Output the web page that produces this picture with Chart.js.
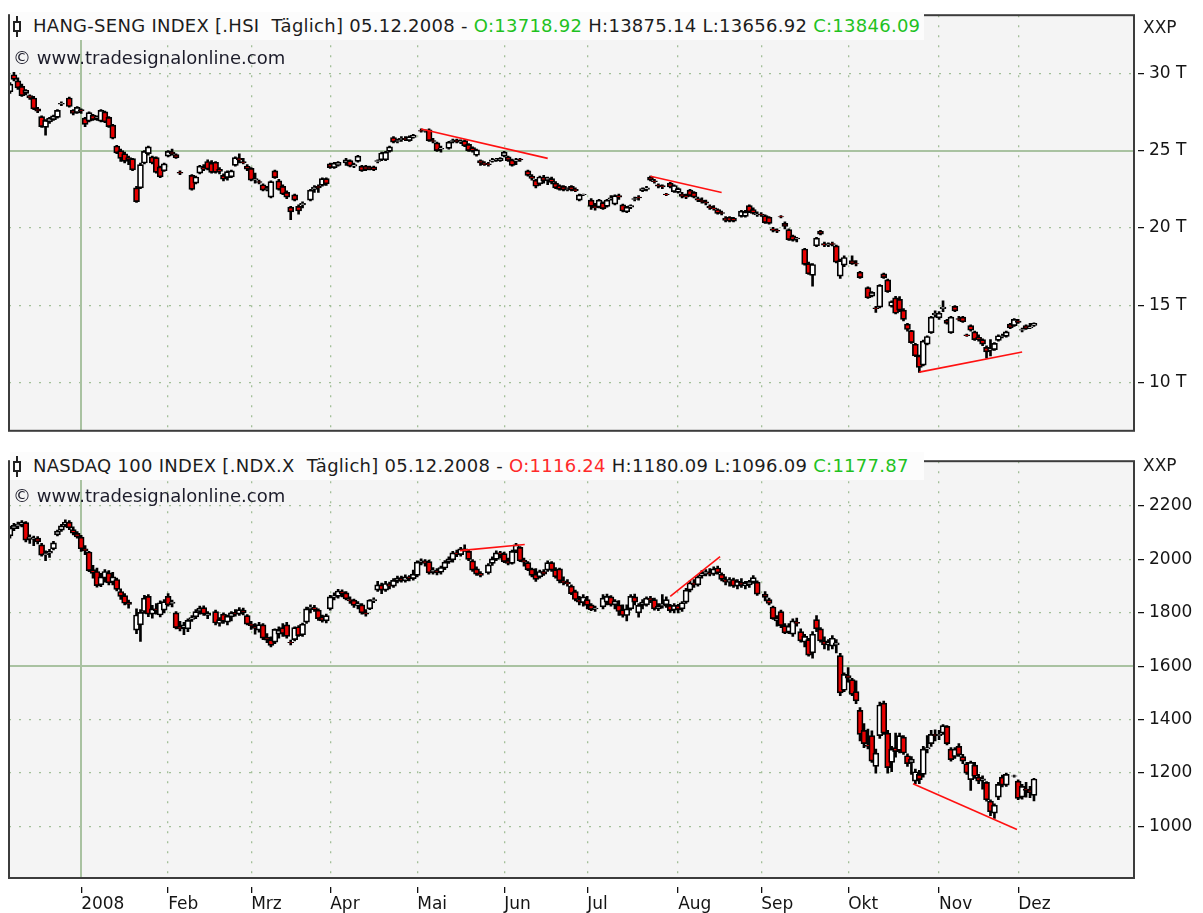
<!DOCTYPE html>
<html lang="de">
<head>
  <meta charset="UTF-8">
  <title>HANG-SENG / NASDAQ 100 - Täglich 2008</title>
  <script src="https://cdn.jsdelivr.net/npm/chart.js"></script>
  <style>
    body {
      margin: 0;
      background: #ffffff;
      font-family: "DejaVu Sans", sans-serif;
      overflow: hidden;
    }
    .wrap {
      position: relative;
      width: 1203px;
      height: 913px;
    }
    canvas {
      position: absolute;
      left: 0;
    }
    .band {
      position: absolute;
      left: 10px;
      width: 914px;
      height: 28px;
      line-height: 28px;
      background: #fcfcfc;
      font-size: 18px;
      letter-spacing: 0.27px;
      color: #1c1c1c;
      white-space: pre;
      padding-left: 23px;
      box-sizing: border-box;
    }
    .icon-line {
      position: absolute;
      left: 6px;
      top: 4px;
      width: 2px;
      height: 21px;
      background: #222;
    }
    .icon-box {
      position: absolute;
      left: 3px;
      top: 9px;
      width: 4px;
      height: 7px;
      border: 2px solid #222;
      background: #fff;
    }
    .copy {
      position: absolute;
      left: 13px;
      height: 22px;
      line-height: 22px;
      font-size: 18px;
      color: #1c1c2a;
    }
    .unit {
      position: absolute;
      left: 1143px;
      height: 20px;
      line-height: 20px;
      font-size: 17px;
      color: #1c1c1c;
    }
    .up { color: #1fc21f; }
    .down { color: #ff2a2a; }
  </style>
</head>
<body>
  <div class="wrap">
    <canvas id="hsiChart" width="1203" height="446" style="top:0px"></canvas>
    <canvas id="ndxChart" width="1203" height="467" style="top:446px"></canvas>

    <div class="band" id="hsiTitle" style="top:12px"></div>
    <div class="copy" style="top:47px">© www.tradesignalonline.com</div>
    <div class="unit" style="top:17px">XXP</div>

    <div class="band" id="ndxTitle" style="top:452px"></div>
    <div class="copy" style="top:485px">© www.tradesignalonline.com</div>
    <div class="unit" style="top:455px">XXP</div>
  </div>

  <script>
    // Trading days 05.12.2007 - 05.12.2008 (union of HK and US sessions), null = market closed
    // [open, high, low, close]
    const hsiBars = [
      [28800,29400,28700,29300],[29900,30050,29500,29600],[29500,29700,28950,29050],[29150,29300,28500,28550],
      [28700,28950,28600,28900],[28550,28600,28300,28400],[28400,28500,27650,27700],[27700,27800,27450,27550],
      [27200,27250,26500,26550],[26500,27000,26000,26950],[26850,27150,26750,27100],[27000,27300,26950,27250],
      [27150,27650,27100,27600],[28000,28150,27900,28050],null,[28400,28450,27800,27850],
      [27600,27650,27300,27400],[27450,27850,27400,27800],[27650,27700,27400,27560],[27100,27150,26550,26700],
      [26900,27500,26850,27450],[27300,27350,26950,27000],[27100,27250,26950,27150],[26900,27650,26850,27600],
      [27500,27550,26800,26850],[27150,27200,26500,26550],[26650,26700,25750,25800],[25300,25350,24800,24850],
      [25000,25100,24300,24500],[24800,24900,24200,24300],[24550,24650,24100,24400],[24480,24500,23700,23750],
      [22600,22700,21650,21700],[22600,24200,22550,24100],[24200,25000,24150,24950],[24800,25300,24700,25250],
      [24600,24650,24150,24200],[24550,24600,23550,23600],[23950,24000,23250,23300],[23700,24200,23650,24150],
      [24650,25000,24600,24950],[24900,25100,24700,24800],[24750,24800,24500,24550],[23600,23700,23450,23550],
      null,null,[23400,23450,22450,22500],[22900,23350,22850,23300],
      [23550,24050,23500,24000],[23900,24100,23700,23800],[24300,24400,23750,23800],[24200,24350,23550,23600],
      [24250,24300,23550,23600],[23800,23900,23500,23650],[23400,23500,23050,23150],[23250,23700,23100,23650],
      [23300,23750,23250,23700],[24050,24600,24000,24550],[24500,24800,24200,24400],[24300,24500,24150,24200],
      [24000,24100,23700,23800],[23850,23900,23050,23100],[23100,23550,22900,23200],[23000,23100,22850,22950],
      [22800,22850,22400,22450],[22500,22700,22400,22550],[22000,23050,21950,23000],[23700,23750,23200,23250],
      [23050,23150,22450,22500],[22700,22800,22150,22200],[22300,22400,21900,22000],[21350,21400,20550,21050],
      [22150,22200,21750,21800],[21400,21500,20900,21100],[21500,21700,21300,21600],null,
      [21800,22500,21750,22450],[22500,22750,22300,22650],[22700,22800,22300,22600],[22750,23250,22700,23200],
      [23200,23250,22750,22850],[24150,24200,23850,23900],[23900,24250,23850,24200],[24050,24300,24000,24250],
      null,[24200,24500,24050,24400],[24350,24400,23950,24000],[24000,24200,23900,24100],
      [24300,24700,24250,24650],[24000,24050,23650,23700],[24000,24050,23700,23750],[23900,24000,23750,23850],
      [23950,24000,23700,23750],[24300,24400,24200,24350],[24400,24900,24350,24850],[24400,24950,24350,24900],
      [24950,25300,24900,25250],[25850,25900,25500,25550],[25600,25750,25500,25650],[25700,25900,25600,25800],
      [25800,25900,25650,25700],[25650,25950,25600,25900],[25850,26050,25800,26000],null,
      [26300,26400,26200,26250],[26250,26350,26200,26300],[26350,26400,25600,25650],[25650,25800,25500,25600],
      [25500,25550,24950,25000],[25100,25300,24900,25150],null,[25150,25600,25100,25550],
      [25600,25750,25500,25650],[25700,25750,25500,25550],[25550,25700,25450,25600],[25650,25700,25250,25300],
      [25400,25450,24950,25000],[25200,25250,24900,24950],[24700,25100,24650,25050],[24350,24400,24050,24200],
      [24200,24300,24050,24100],[24150,24250,24000,24100],[24300,24500,24250,24400],[24400,24500,24300,24450],
      [24350,24550,24300,24500],[24650,24950,24600,24900],[24600,24650,24300,24350],[24400,24450,24000,24050],
      [24300,24500,24100,24400],[24450,24500,24300,24400],null,[23700,23750,23350,23400],
      [23350,23450,23100,23200],[23100,23150,22600,22700],[22850,23350,22750,23300],[23300,23400,22900,23050],
      [23100,23300,22800,23250],[23200,23300,22850,22950],[22900,23000,22550,22600],[22750,22800,22450,22500],
      [22700,22750,22400,22450],[22500,22600,22400,22550],[22700,22750,22400,22450],[22500,22600,22350,22400],
      [21800,22200,21750,22150],[22150,22200,22100,22180],null,[21800,21900,21200,21400],
      [21400,21600,21150,21300],[21350,21850,21300,21800],[21650,21700,21200,21250],[21400,21850,21350,21800],
      [21900,22100,21800,21950],[21550,22150,21500,22100],[22100,22200,21850,22000],[21500,21550,21050,21100],
      [21050,21400,21000,21350],[21350,21500,21250,21450],[21850,22000,21750,21900],[22000,22100,21800,21950],
      [22400,22600,22350,22550],[22500,22700,22400,22600],[23300,23350,23050,23100],[23050,23150,22900,23000],
      [22800,22850,22600,22700],[22750,22800,22550,22650],[22200,22250,22100,22150],[22900,22950,22600,22650],
      [22350,22800,22300,22750],[22300,22600,22250,22550],[22200,22300,21950,22050],[22100,22200,21900,22000],
      [22450,22500,22050,22100],[22300,22350,21950,22000],[21900,22000,21700,21800],[21800,21950,21600,21700],
      [21700,21800,21500,21600],[21400,21500,21200,21300],[21300,21450,21150,21250],[21200,21250,20900,20950],
      [21000,21100,20850,20950],[20650,20750,20400,20500],[20700,20750,20400,20450],[20650,20700,20400,20450],
      null,[20750,21150,20700,21100],[20750,21150,20700,21050],[21450,21500,21000,21050],
      [21200,21300,20900,20950],[20850,21050,20750,20900],[20900,21000,20750,20850],[20800,20850,20300,20350],
      [20700,20750,20250,20300],[19950,20050,19750,19850],[19850,19950,19700,19800],[20750,20800,20650,20720],
      [20300,20400,19950,20100],[19900,19950,19200,19250],[19500,19550,19150,19200],[19300,19400,19100,19350],
      null,[18650,18700,17600,17650],[17700,17800,17000,17050],[16950,17700,16250,17650],
      [18850,19400,18800,19350],[19800,19850,19550,19600],[19000,19100,18800,18900],[18900,19050,18800,18950],
      [19000,19100,18850,18950],[18850,18900,17750,17800],[16900,18000,16750,17900],[17600,18200,17500,18100],
      null,[17900,18200,17650,17700],[17700,17900,17550,17680],[17150,17200,16750,16800],
      null,[16150,16200,15450,15500],[15600,15900,15550,15850],[14850,14950,14550,14800],
      [14900,16350,14850,16300],[17050,17100,16750,16800],[16650,16700,15850,15900],[14950,15300,14900,15250],
      [15500,15600,14450,14500],[15400,15580,14600,14700],[14700,14800,14000,14100],[13800,13850,13350,13450],
      [13380,13400,12550,12600],[12500,12550,11700,11750],[11750,11800,10680,11000],[11150,12760,11100,12700],
      [12500,13050,12450,13000],[13250,14300,13200,14250],[14400,14650,14250,14500],[14200,14600,14100,14500],
      [14800,15300,14600,14900],[14050,14100,13800,13850],[13250,14300,13200,14250],[14950,15000,14600,14650],
      [14150,14300,14000,14100],[14250,14300,13900,13950],[13100,13150,13000,13050],[13700,13750,13350,13400],
      [13300,13350,12750,12800],[12950,13100,12700,12800],[12800,12850,12400,12500],[12300,12400,11600,12000],
      [12100,12800,11750,12200],[12150,12600,12100,12550],[12750,13100,12700,13050],[13000,13150,12900,13050],
      [13000,13350,12950,13300],[13800,13850,13500,13550],[13700,14150,13650,14100],[14000,14100,13850,13900],
      [13400,13550,13300,13450],[13700,13750,13450,13500],[13550,13850,13500,13600],[13718.92,13875.14,13656.92,13846.09]
    ];

    const ndxBars = [
      [2088,2124,2080,2118],[2115,2135,2108,2128],[2125,2140,2115,2132],[2130,2146,2122,2140],
      [2138,2142,2066,2072],[2078,2092,2060,2084],[2075,2088,2052,2080],[2080,2086,2058,2066],
      [2055,2060,2012,2016],[2018,2032,1995,2022],[2024,2038,2008,2030],[2040,2068,2036,2062],
      [2092,2110,2088,2106],[2110,2132,2105,2126],[2128,2148,2122,2140],[2140,2146,2112,2118],
      [2112,2122,2092,2098],[2098,2104,2080,2084],[2084,2090,2030,2040],[2040,2052,2018,2032],
      [2028,2030,1954,1958],[1962,1978,1930,1948],[1955,1968,1896,1902],[1905,1948,1898,1935],
      [1930,1962,1915,1955],[1950,1958,1905,1912],[1915,1952,1905,1935],[1925,1930,1882,1888],
      [1880,1890,1850,1862],[1865,1872,1830,1836],[1840,1848,1818,1832],null,
      [1735,1815,1722,1792],[1755,1812,1693,1802],[1805,1866,1798,1855],[1862,1868,1786,1795],
      [1795,1828,1780,1815],[1815,1835,1795,1808],[1792,1845,1785,1838],[1810,1850,1800,1842],
      [1862,1872,1825,1830],[1835,1848,1822,1840],[1800,1805,1740,1745],[1748,1768,1732,1740],
      [1742,1765,1718,1755],[1740,1778,1730,1772],[1775,1790,1768,1782],[1785,1812,1778,1805],
      [1805,1825,1795,1818],[1820,1826,1790,1795],[1790,1805,1778,1798],null,
      [1805,1810,1755,1762],[1760,1782,1750,1775],[1795,1800,1760,1768],[1765,1792,1755,1788],
      [1785,1805,1770,1800],[1802,1812,1788,1795],[1795,1820,1790,1812],[1810,1818,1792,1800],
      [1790,1794,1755,1758],[1758,1768,1738,1752],[1750,1760,1720,1742],[1735,1765,1728,1756],
      [1755,1760,1700,1705],[1708,1722,1688,1698],[1700,1710,1672,1678],[1690,1740,1685,1738],
      [1720,1748,1705,1735],[1745,1760,1712,1722],[1755,1765,1705,1712],[1690,1698,1680,1688],
      [1700,1748,1695,1745],[1748,1752,1712,1715],[1718,1762,1712,1758],[1765,1822,1760,1815],
      [1815,1830,1800,1822],[1820,1828,1805,1812],[1810,1815,1772,1778],[1785,1792,1765,1770],
      [1770,1795,1762,1790],[1815,1866,1810,1860],[1858,1875,1848,1865],[1862,1888,1855,1882],
      [1880,1886,1860,1872],[1875,1880,1848,1852],[1850,1860,1835,1845],[1848,1852,1820,1828],
      [1828,1842,1815,1835],[1830,1835,1795,1800],[1800,1812,1788,1795],[1815,1850,1812,1848],
      [1845,1856,1838,1850],[1885,1918,1880,1905],[1905,1912,1872,1885],[1885,1918,1880,1910],
      [1908,1915,1890,1900],[1900,1928,1895,1922],[1918,1938,1912,1930],[1932,1938,1915,1920],
      [1920,1942,1915,1935],[1935,1940,1920,1928],[1928,1960,1922,1945],[1940,1995,1935,1990],
      [1990,2002,1980,1995],[1995,2000,1975,1985],[1992,1998,1945,1950],[1955,1970,1945,1960],
      [1958,1966,1942,1950],[1952,1975,1945,1970],[1968,1996,1962,1990],[1990,2010,1985,2002],
      [1998,2030,1990,2025],[2025,2035,2010,2020],[2018,2045,2012,2040],[2040,2055,2030,2035],
      [2030,2035,1995,2000],[1995,2000,1955,1960],[1965,1972,1940,1945],[1948,1955,1935,1940],
      null,[1950,1985,1945,1980],[1985,2010,1978,2002],[2000,2032,1995,2025],
      [2025,2030,2005,2020],[2022,2028,1988,1992],[1995,2005,1980,1985],[1985,2035,1982,2030],
      [2032,2060,2025,2055],[2045,2048,1992,1995],[1998,2005,1975,1990],[1988,1992,1958,1962],
      [1965,1968,1935,1940],[1945,1966,1918,1925],[1935,1960,1930,1955],[1955,1962,1940,1945],
      [1960,1995,1955,1988],[1988,1992,1955,1960],[1962,1970,1930,1935],[1965,1968,1912,1920],
      [1920,1935,1905,1912],[1915,1925,1900,1908],[1900,1905,1868,1872],[1880,1885,1845,1850],
      [1850,1862,1830,1840],[1838,1868,1825,1860],[1850,1862,1815,1828],[1830,1835,1808,1812],
      [1815,1825,1805,1818],null,[1822,1868,1815,1855],[1840,1870,1830,1862],
      [1860,1865,1825,1830],[1830,1850,1815,1845],[1830,1846,1790,1805],[1812,1830,1784,1790],
      [1790,1830,1770,1815],[1815,1868,1810,1862],[1860,1870,1830,1840],[1800,1835,1784,1828],
      [1828,1850,1815,1840],[1830,1860,1825,1855],[1855,1862,1838,1848],[1850,1855,1810,1815],
      [1815,1835,1808,1825],[1825,1868,1818,1835],[1830,1860,1820,1850],[1828,1832,1802,1808],
      [1810,1835,1800,1828],[1828,1832,1800,1812],[1815,1842,1805,1838],[1840,1892,1835,1885],
      [1885,1920,1878,1912],[1912,1925,1895,1905],[1905,1940,1900,1935],[1938,1958,1930,1948],
      [1945,1962,1938,1955],[1950,1966,1938,1945],[1945,1972,1940,1965],[1968,1975,1945,1950],
      [1945,1950,1920,1925],[1925,1935,1905,1915],[1915,1932,1900,1925],[1925,1930,1895,1900],
      [1900,1925,1890,1918],[1915,1928,1895,1902],[1902,1918,1890,1910],[1905,1922,1895,1918],
      [1915,1940,1910,1932],[1915,1920,1865,1870],null,[1870,1880,1845,1858],
      [1850,1855,1830,1835],[1822,1825,1775,1778],[1770,1790,1750,1780],[1805,1810,1745,1752],
      [1752,1760,1722,1725],[1728,1760,1722,1750],[1720,1778,1712,1770],[1765,1780,1750,1760],
      [1730,1740,1690,1695],[1690,1720,1672,1712],[1700,1705,1638,1642],[1650,1730,1630,1720],
      [1775,1790,1730,1740],[1740,1745,1690,1695],[1695,1710,1665,1680],[1680,1700,1660,1690],
      [1675,1715,1665,1705],[1680,1700,1650,1688],[1640,1648,1490,1500],[1510,1575,1505,1570],
      [1565,1595,1540,1555],[1550,1555,1490,1495],[1505,1545,1460,1470],[1435,1445,1320,1345],
      [1360,1385,1295,1310],[1305,1365,1290,1300],[1340,1358,1240,1245],[1225,1290,1200,1275],
      [1340,1466,1330,1455],[1462,1470,1345,1350],[1350,1360,1200,1220],[1240,1300,1205,1290],
      [1295,1350,1260,1280],[1285,1350,1275,1340],[1335,1340,1270,1275],[1265,1272,1225,1235],
      [1238,1262,1195,1252],[1170,1215,1160,1205],[1195,1210,1160,1175],[1195,1300,1185,1290],
      [1290,1340,1275,1295],[1310,1360,1300,1345],[1345,1362,1320,1340],[1340,1360,1325,1345],
      [1350,1382,1345,1378],[1375,1378,1305,1310],[1290,1295,1245,1250],[1262,1295,1255,1290],
      [1300,1310,1262,1268],[1262,1270,1235,1245],[1235,1240,1195,1200],[1175,1245,1135,1240],
      [1230,1240,1180,1188],[1185,1195,1160,1170],[1172,1190,1140,1178],[1165,1168,1095,1100],
      [1095,1100,1040,1055],[1050,1085,1030,1080],[1110,1165,1100,1158],[1185,1192,1148,1155],
      [1155,1200,1150,1195],null,[1188,1192,1185,1190],[1170,1175,1100,1105],
      [1110,1158,1102,1150],[1140,1165,1110,1135],[1138,1150,1108,1127],[1116.24,1180.09,1096.09,1177.87]
    ];

    const monthLabels = ['2008', 'Feb', 'Mrz', 'Apr', 'Mai', 'Jun', 'Jul', 'Aug', 'Sep', 'Okt', 'Nov', 'Dez'];
    const monthStarts = [18, 40, 61, 81, 103, 125, 146, 169, 190, 212, 235, 255];

    const hsiTicks = [10000, 15000, 20000, 25000, 30000];
    const ndxTicks = [1000, 1200, 1400, 1600, 1800, 2000, 2200];

    // trend lines: [startIndex, startValue, endIndex, endValue]
    const hsiTrends = [[104, 26400, 136, 24500], [162, 23350, 180, 22300], [230, 10700, 256, 12000]];
    const ndxTrends = [[113.8, 2033, 130.2, 2056], [167, 1862, 179.6, 2011], [228.4, 1160, 254.7, 989]];

    Chart.defaults.font.family = '"DejaVu Sans", sans-serif';

    // header lines built from the last bar, coloured against the previous close
    function fillTitle(el, name, bars) {
      const last = bars[bars.length - 1];
      const prev = bars[bars.length - 2];
      const f = v => v.toFixed(2);
      const cls = v => v < prev[3] ? 'down' : 'up';
      el.innerHTML = '<span class="icon-line"></span><span class="icon-box"></span>' +
        name + ' 05.12.2008 - ' +
        '<span class="' + cls(last[0]) + '">O:' + f(last[0]) + '</span>' +
        ' H:' + f(last[1]) + ' L:' + f(last[2]) + ' ' +
        '<span class="' + cls(last[3]) + '">C:' + f(last[3]) + '</span>';
    }
    fillTitle(document.getElementById('hsiTitle'), 'HANG-SENG INDEX [.HSI  Täglich]', hsiBars);
    fillTitle(document.getElementById('ndxTitle'), 'NASDAQ 100 INDEX [.NDX.X  Täglich]', ndxBars);

    const panelPlugin = {
      id: 'panel',
      beforeDraw(chart) {
        const {ctx, chartArea: a} = chart;
        ctx.save();
        ctx.fillStyle = '#f4f4f4';
        ctx.fillRect(a.left, a.top, a.width, a.height);
        ctx.restore();
      },
      beforeDatasetsDraw(chart, args, opts) {
        const {ctx, chartArea: a, scales} = chart;
        const y = Math.round(scales.y.getPixelForValue(opts.level));
        const x = Math.round(scales.x.getPixelForValue(monthStarts[0]));
        ctx.save();
        ctx.strokeStyle = '#a9c2a1';
        ctx.lineWidth = 2;
        ctx.beginPath();
        ctx.moveTo(a.left, y);
        ctx.lineTo(a.right, y);
        ctx.moveTo(x, a.top);
        ctx.lineTo(x, a.bottom);
        ctx.stroke();
        ctx.restore();
      },
      afterDraw(chart) {
        const {ctx, chartArea: a} = chart;
        ctx.save();
        ctx.strokeStyle = '#3c3c3c';
        ctx.lineWidth = 2;
        ctx.strokeRect(a.left, a.top, a.width, a.height);
        ctx.restore();
      }
    };

    function candleDatasets(bars) {
      const bodies = [], wicks = [], fills = [];
      bars.forEach((b, i) => {
        if (!b) return;
        wicks.push({x: i, y: [b[2], b[1]]});
        bodies.push({x: i, y: [b[0], b[3]]});
        fills.push(b[3] < b[0] ? '#e80000' : '#ffffff');
      });
      return [
        {
          type: 'bar', data: bodies, backgroundColor: fills, borderColor: '#000000',
          borderWidth: 1.7, borderSkipped: false, barThickness: 6, grouped: false, order: 1
        },
        {
          type: 'bar', data: wicks, backgroundColor: '#000000', borderWidth: 0,
          barThickness: 2, grouped: false, order: 2
        }
      ];
    }

    function trendDatasets(trends) {
      return trends.map(t => ({
        type: 'line',
        data: [{x: t[0], y: t[1]}, {x: t[2], y: t[3]}],
        borderColor: '#ff1010',
        borderWidth: 1.6,
        pointRadius: 0,
        order: 0
      }));
    }

    function makeChart(id, bars, trends, cfg) {
      return new Chart(document.getElementById(id), {
        type: 'bar',
        data: {datasets: [...candleDatasets(bars), ...trendDatasets(trends)]},
        options: {
          responsive: false,
          animation: false,
          events: [],
          layout: {padding: {left: 9, top: cfg.padTop, right: 0, bottom: 0}},
          plugins: {
            legend: {display: false},
            tooltip: {enabled: false},
            panel: {level: cfg.level}
          },
          scales: {
            x: {
              type: 'linear',
              min: -0.25,
              max: 284.3,
              offset: false,
              afterBuildTicks: s => { s.ticks = monthStarts.map(v => ({value: v})); },
              afterFit: s => { s.height = cfg.xHeight; },
              grid: {
                offset: false,
                color: c => (c.tick && c.tick.value === monthStarts[0]) ? 'rgba(0,0,0,0)' : '#a2bf98',
                lineWidth: 1.3,
                drawTicks: cfg.showX,
                tickLength: 15,
                tickColor: '#111111',
                tickWidth: 1.3,
                tickBorderDash: [0, 9, 6, 100]
              },
              border: {display: false, dash: [2, 8]},
              ticks: {
                display: cfg.showX,
                autoSkip: false,
                maxRotation: 0,
                align: 'start',
                padding: 1,
                color: '#151515',
                font: {size: 17},
                callback: (v, i) => monthLabels[i]
              }
            },
            y: {
              position: 'right',
              min: cfg.min,
              max: cfg.max,
              afterBuildTicks: s => { s.ticks = cfg.ticks.map(v => ({value: v})); },
              afterFit: s => { s.width = 69; },
              grid: {
                color: c => (c.tick && c.tick.value === cfg.level) ? 'rgba(0,0,0,0)' : '#a2bf98',
                lineWidth: 1.3,
                tickLength: 10,
                tickColor: '#111111',
                tickWidth: 1.3,
                tickBorderDash: [0, 4, 6, 100]
              },
              border: {display: false, dash: [2, 8]},
              ticks: {
                padding: 5,
                color: '#151515',
                font: {size: 17},
                callback: cfg.label
              }
            }
          }
        },
        plugins: [panelPlugin]
      });
    }

    makeChart('hsiChart', hsiBars, hsiTrends, {
      padTop: 11, xHeight: 5, showX: false,
      min: 6910, max: 33745, ticks: hsiTicks, level: 25000,
      label: v => (v / 1000) + ' T'
    });

    makeChart('ndxChart', ndxBars, ndxTrends, {
      padTop: 4, xHeight: 35, showX: true,
      min: 807, max: 2368, ticks: ndxTicks, level: 1600,
      label: v => String(v)
    });
  </script>
</body>
</html>
